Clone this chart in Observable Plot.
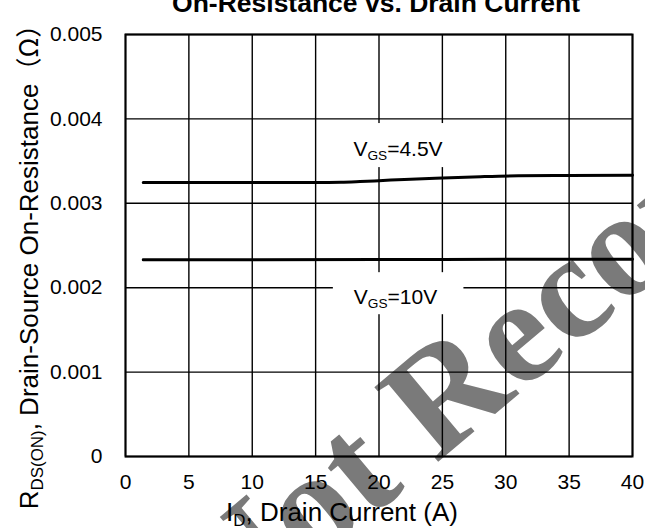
<!DOCTYPE html>
<html><head><meta charset="utf-8">
<script src="https://cdn.jsdelivr.net/npm/d3@7"></script>
<script src="https://cdn.jsdelivr.net/npm/@observablehq/plot@0.6"></script>
<style>html,body{margin:0;padding:0;background:#fff}svg{display:block}</style>
</head><body><div id="chart"></div>
<script>
// ---- data ----
const xTicks = [0, 5, 10, 15, 20, 25, 30, 35, 40];
const yTicks = [0, 0.001, 0.002, 0.003, 0.004, 0.005];
const yTickLabels = ["0", "0.001", "0.002", "0.003", "0.004", "0.005"];

const idVgs45 = [1.4, 5, 10, 15, 17, 18.5, 20, 22, 25, 28, 31, 35, 40];
const rVgs45 = [0.003247, 0.003247, 0.003247, 0.003247, 0.00325, 0.003258, 0.003268, 0.003283, 0.0033, 0.003315, 0.003326, 0.00333, 0.003333];
const idVgs10 = [1.4, 10, 20, 30, 40];
const rVgs10 = [0.00233, 0.002331, 0.002333, 0.002336, 0.002338];

const seriesLabels = ["V{GS}=4.5V", "V{GS}=10V"];
const titleText = "On-Resistance vs. Drain Current";
const xTitle = "I{D}, Drain Current (A)";
const yTitle = "R{DS(ON)}, Drain-Source On-Resistance（Ω）";
const watermark = "Not Recommended";

const font = "Liberation Sans, Arial, sans-serif";

const svg = Plot.plot({
  width: 645, height: 528,
  marginTop: 34, marginRight: 13, marginBottom: 72, marginLeft: 125,
  style: {fontFamily: font, fontSize: "21px", color: "black", background: "white"},
  x: {domain: [0, 40], ticks: xTicks},
  y: {domain: [0, 0.005], ticks: yTicks},
  marks: [
    Plot.text([watermark], {x: 8.1, y: -0.00215, text: d => d, rotate: -40, textAnchor: "start", lineAnchor: "bottom",
      fontSize: 150, fontWeight: "bold", fontFamily: "Liberation Serif, serif", fill: "#7a7a7a"}),
    Plot.ruleX(xTicks, {stroke: "black", strokeWidth: 1.4}),
    Plot.ruleY(yTicks, {stroke: "black", strokeWidth: 1.4}),
    Plot.rect(seriesLabels, {x1: [16.4, 16.4], x2: [26.7, 26.7], y1: [0.003423, 0.00168], y2: [0.003945, 0.002178], fill: "white"}),
    Plot.frame({stroke: "black", strokeWidth: 2}),
    Plot.line(idVgs45, {x: d => d, y: (d, i) => rVgs45[i], stroke: "black", strokeWidth: 3, curve: "monotone-x"}),
    Plot.line(idVgs10, {x: d => d, y: (d, i) => rVgs10[i], stroke: "black", strokeWidth: 3, curve: "monotone-x"}),
    Plot.text(seriesLabels, {x: [21.5, 21.3], y: [0.003565, 0.001811], text: d => d, lineAnchor: "bottom", fontSize: 21, fill: "black", className: "rich"}),
    Plot.axisX(xTicks, {tickSize: 0, tickPadding: 18, fontSize: 21, label: null}),
    Plot.axisY(yTicks, {tickSize: 0, tickPadding: 23, fontSize: 21, label: null, tickFormat: d => yTickLabels[yTicks.indexOf(d)]}),
    Plot.text([titleText], {frameAnchor: "top", lineAnchor: "bottom", textAnchor: "middle", dy: -23, dx: -3, text: d => d, fontSize: 26.5, fontWeight: "bold", fill: "black"}),
    Plot.text([xTitle], {frameAnchor: "bottom", lineAnchor: "bottom", textAnchor: "middle", dy: 64, dx: -37, text: d => d, fontSize: 26, fill: "black", className: "rich"}),
    Plot.text([yTitle], {frameAnchor: "left", lineAnchor: "bottom", textAnchor: "middle", rotate: -90, dx: -88, dy: 15, text: d => d, fontSize: 26, fill: "black", className: "rich"})
  ]
});

// subscripts ("{...}") become smaller lowered tspans; full-width "（…）" uses a CJK face
d3.select(svg).selectAll(".rich text").each(function () {
  const t = this.textContent;
  if (!/[{（]/.test(t)) return;
  const parts = t.split(/(\{[^}]*\}|（[^）]*）)/).filter(s => s.length);
  this.textContent = "";
  let lowered = false;
  for (const p of parts) {
    const isSub = p.startsWith("{");
    const ts = d3.select(this).append("tspan").text(isSub ? p.slice(1, -1) : p);
    if (p.startsWith("（")) ts.attr("font-family", "Noto Sans CJK JP");
    if (isSub) { ts.attr("font-size", "65%").attr("dy", "0.3em"); lowered = true; }
    else if (lowered) { ts.attr("dy", "-0.195em"); lowered = false; }
  }
});

document.getElementById("chart").appendChild(svg);
</script>
</body></html>
